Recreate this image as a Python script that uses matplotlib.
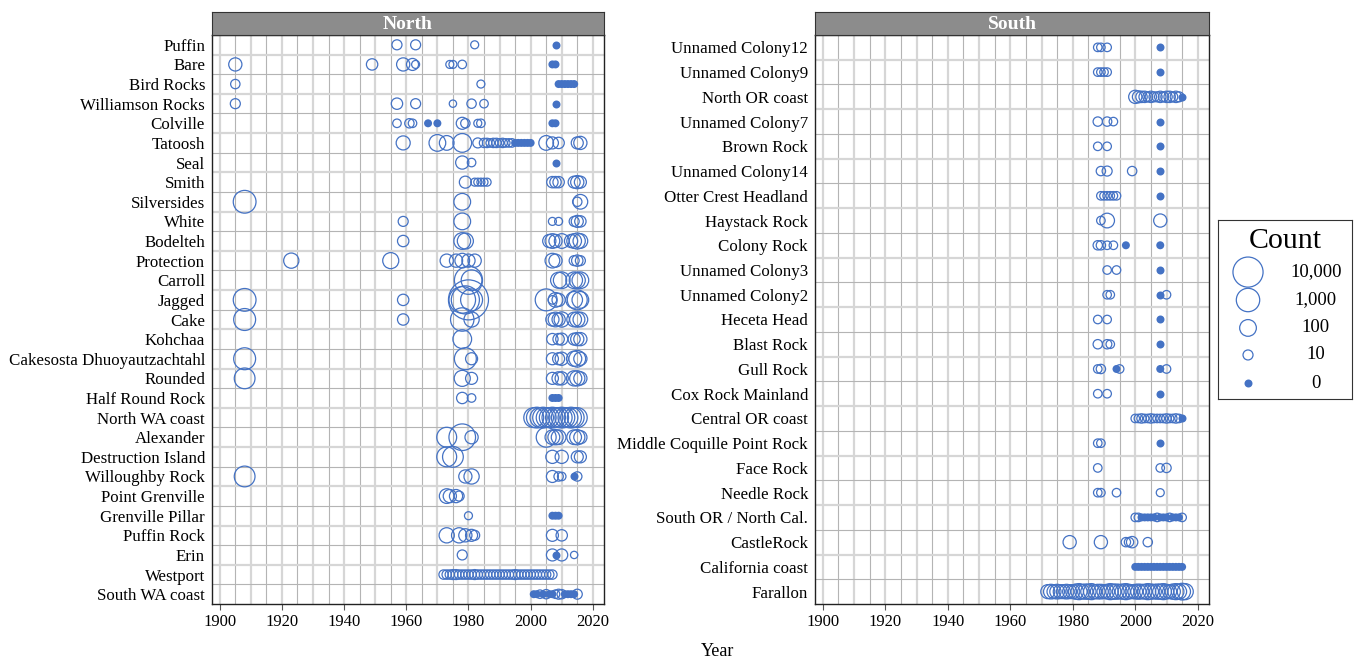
import numpy as np
import matplotlib.pyplot as plt

plt.rcParams['font.family'] = ['Liberation Serif', 'DejaVu Serif']

BLUE = '#4472c4'

# colony order, top to bottom
north_sites = ['Puffin', 'Bare', 'Bird Rocks', 'Williamson Rocks', 'Colville', 'Tatoosh',
               'Seal', 'Smith', 'Silversides', 'White', 'Bodelteh', 'Protection', 'Carroll',
               'Jagged', 'Cake', 'Kohchaa', 'Cakesosta Dhuoyautzachtahl', 'Rounded',
               'Half Round Rock', 'North WA coast', 'Alexander', 'Destruction Island',
               'Willoughby Rock', 'Point Grenville', 'Grenville Pillar', 'Puffin Rock', 'Erin',
               'Westport', 'South WA coast']

south_sites = ['Unnamed Colony12', 'Unnamed Colony9', 'North OR coast', 'Unnamed Colony7',
               'Brown Rock', 'Unnamed Colony14', 'Otter Crest Headland', 'Haystack Rock',
               'Colony Rock', 'Unnamed Colony3', 'Unnamed Colony2', 'Heceta Head', 'Blast Rock',
               'Gull Rock', 'Cox Rock Mainland', 'Central OR coast', 'Middle Coquille Point Rock',
               'Face Rock', 'Needle Rock', 'South OR / North Cal.', 'CastleRock',
               'California coast', 'Farallon']

# (year, count) per colony; count 0 = surveyed, none seen
north_counts = {
    'Puffin': [(1957, 10), (1963, 10), (1982, 5), (2008, 0)],
    'Bare': [(1905, 30), (1949, 16), (1959, 30), (1962, 20), (1963, 5), (1974, 5), (1975, 5),
             (1978, 6), (2007, 0), (2008, 0)],
    'Bird Rocks': [(1905, 8), (1984, 5), (2009, 0), (2010, 0), (2011, 0), (2012, 0), (2013, 0),
                   (2014, 0)],
    'Williamson Rocks': [(1905, 10), (1957, 16), (1963, 10), (1975, 4), (1981, 8), (1985, 6),
                         (2008, 0)],
    'Colville': [(1957, 6), (1961, 8), (1962, 6), (1967, 0), (1970, 0), (1978, 20), (1979, 8),
                 (1983, 5), (1984, 6), (2007, 0), (2008, 0)],
    'Tatoosh': [(1959, 40), (1970, 100), (1973, 50), (1978, 200), (1983, 10), (1985, 8),
                (1986, 8), (1987, 6), (1988, 8), (1989, 8), (1990, 6), (1991, 8), (1992, 6),
                (1993, 6), (1994, 6), (1995, 0), (1996, 0), (1997, 0), (1998, 0), (1999, 0),
                (2000, 0), (2005, 50), (2007, 20), (2009, 16), (2015, 20), (2016, 30)],
    'Seal': [(1978, 30), (1981, 6), (2008, 0)],
    'Smith': [(1979, 20), (1982, 5), (1983, 5), (1984, 5), (1985, 5), (1986, 5), (2007, 16),
              (2008, 16), (2009, 16), (2014, 20), (2015, 30), (2016, 20)],
    'Silversides': [(1908, 800), (1978, 100), (2015, 8), (2016, 50)],
    'White': [(1959, 10), (1978, 100), (2007, 5), (2009, 5), (2014, 10), (2015, 20), (2016, 16)],
    'Bodelteh': [(1959, 16), (1978, 100), (1979, 80), (2006, 30), (2007, 50), (2008, 30),
                 (2010, 50), (2013, 30), (2014, 50), (2015, 80), (2016, 50)],
    'Protection': [(1923, 60), (1955, 80), (1973, 30), (1976, 30), (1978, 50), (1980, 30),
                   (1982, 30), (2007, 50), (2008, 30), (2014, 10), (2015, 16), (2016, 10)],
    'Carroll': [(1980, 5000), (1981, 400), (2009, 80), (2010, 100), (2014, 100), (2015, 80),
                (2016, 100)],
    'Jagged': [(1908, 800), (1959, 16), (1978, 3000), (1979, 5000), (1980, 300000),
               (1981, 600), (2005, 600), (2007, 6), (2008, 50), (2009, 30), (2014, 100),
               (2015, 300), (2016, 100)],
    'Cake': [(1908, 600), (1959, 16), (1978, 1000), (1981, 60), (2007, 30), (2008, 50),
             (2009, 30), (2010, 60), (2014, 50), (2015, 60), (2016, 50)],
    'Kohchaa': [(1978, 200), (2007, 16), (2009, 16), (2010, 20), (2014, 20), (2015, 30),
                (2016, 30)],
    'Cakesosta Dhuoyautzachtahl': [(1908, 600), (1979, 600), (1981, 20), (2007, 20), (2009, 20),
                                   (2010, 30), (2014, 60), (2015, 100), (2016, 30)],
    'Rounded': [(1908, 400), (1978, 80), (1981, 20), (2007, 20), (2009, 30), (2010, 30),
                (2014, 60), (2015, 60), (2016, 30)],
    'Half Round Rock': [(1978, 16), (1981, 6), (2007, 0), (2008, 0), (2009, 0)],
    'North WA coast': [(2001, 300), (2002, 400), (2003, 300), (2004, 400), (2005, 300),
                       (2006, 300), (2007, 400), (2008, 300), (2009, 300), (2010, 400),
                       (2011, 300), (2012, 300), (2013, 400), (2014, 300), (2015, 300)],
    'Alexander': [(1973, 300), (1978, 3000), (1981, 30), (2005, 300), (2007, 50), (2008, 60),
                  (2009, 50), (2014, 50), (2015, 60), (2016, 30)],
    'Destruction Island': [(1973, 300), (1975, 400), (2007, 30), (2010, 30), (2015, 20),
                           (2016, 20)],
    'Willoughby Rock': [(1908, 400), (1979, 30), (1981, 60), (2007, 20), (2009, 8), (2010, 6),
                        (2014, 0), (2015, 8)],
    'Point Grenville': [(1973, 50), (1974, 30), (1976, 30), (1977, 10)],
    'Grenville Pillar': [(1980, 5), (2007, 0), (2008, 0), (2009, 0)],
    'Puffin Rock': [(1973, 60), (1977, 60), (1979, 30), (1981, 20), (1982, 10), (2007, 20),
                    (2010, 16)],
    'Erin': [(1978, 10), (2007, 20), (2008, 0), (2010, 20), (2014, 4)],
    'Westport': [(1972, 8), (1973, 8), (1974, 8), (1975, 10), (1976, 10), (1977, 8), (1978, 8),
                 (1979, 8), (1980, 8), (1981, 8), (1982, 10), (1983, 8), (1984, 8), (1985, 8),
                 (1986, 8), (1987, 8), (1988, 8), (1989, 8), (1990, 8), (1991, 8), (1992, 8),
                 (1993, 8), (1994, 8), (1995, 10), (1996, 8), (1997, 8), (1998, 8), (1999, 8),
                 (2000, 8), (2001, 8), (2002, 8), (2003, 8), (2004, 8), (2005, 8), (2006, 8),
                 (2007, 8)],
    'South WA coast': [(2001, 0), (2002, 0), (2003, 6), (2004, 0), (2005, 8), (2006, 0),
                       (2007, 0), (2008, 6), (2009, 10), (2010, 8), (2011, 0), (2012, 0),
                       (2013, 0), (2014, 0), (2015, 10)],
}

south_counts = {
    'Unnamed Colony12': [(1988, 6), (1989, 6), (1991, 6), (2008, 0)],
    'Unnamed Colony9': [(1988, 6), (1989, 6), (1990, 6), (1991, 6), (2008, 0)],
    'North OR coast': [(2000, 30), (2001, 20), (2002, 16), (2003, 16), (2004, 10), (2005, 16),
                       (2006, 10), (2007, 10), (2008, 16), (2009, 10), (2010, 16), (2011, 16),
                       (2012, 10), (2013, 16), (2014, 10), (2015, 0)],
    'Unnamed Colony7': [(1988, 8), (1991, 8), (1993, 6), (2008, 0)],
    'Brown Rock': [(1988, 6), (1991, 6), (2008, 0)],
    'Unnamed Colony14': [(1989, 8), (1991, 10), (1999, 8), (2008, 0)],
    'Otter Crest Headland': [(1989, 6), (1990, 6), (1991, 6), (1992, 6), (1993, 6), (1994, 6),
                             (2008, 0)],
    'Haystack Rock': [(1989, 6), (1991, 50), (2008, 30)],
    'Colony Rock': [(1988, 8), (1989, 8), (1991, 6), (1993, 6), (1997, 0), (2008, 0)],
    'Unnamed Colony3': [(1991, 6), (1994, 6), (2008, 0)],
    'Unnamed Colony2': [(1991, 6), (1992, 6), (2008, 0), (2010, 6)],
    'Heceta Head': [(1988, 6), (1991, 6), (2008, 0)],
    'Blast Rock': [(1988, 8), (1991, 8), (1992, 6), (2008, 0)],
    'Gull Rock': [(1988, 6), (1989, 8), (1995, 6), (1994, 0), (2010, 6), (2008, 0)],
    'Cox Rock Mainland': [(1988, 6), (1991, 6), (2008, 0)],
    'Central OR coast': [(2000, 6), (2001, 6), (2002, 8), (2003, 6), (2004, 6), (2005, 8),
                         (2006, 6), (2007, 6), (2008, 6), (2009, 6), (2010, 8), (2011, 6),
                         (2012, 6), (2013, 8), (2014, 6), (2015, 0)],
    'Middle Coquille Point Rock': [(1988, 6), (1989, 6), (2008, 0)],
    'Face Rock': [(1988, 6), (2008, 6), (2010, 8)],
    'Needle Rock': [(1988, 6), (1989, 6), (1994, 6), (2008, 5)],
    'South OR / North Cal.': [(2000, 6), (2001, 6), (2002, 0), (2003, 0), (2004, 0), (2005, 0),
                              (2006, 0), (2008, 0), (2009, 0), (2010, 0), (2012, 0), (2013, 0),
                              (2014, 0), (2007, 6), (2011, 6), (2015, 6)],
    'CastleRock': [(1979, 30), (1989, 30), (1997, 8), (1998, 8), (1999, 16), (2004, 8)],
    'California coast': [(2000, 0), (2001, 0), (2002, 0), (2003, 0), (2004, 0), (2005, 0),
                         (2006, 0), (2007, 0), (2008, 0), (2009, 0), (2010, 0), (2011, 0),
                         (2012, 0), (2013, 0), (2014, 0), (2015, 0)],
    'Farallon': [(1972, 40), (1973, 50), (1974, 40), (1975, 50), (1976, 40), (1977, 40),
                 (1978, 50), (1979, 40), (1980, 40), (1981, 60), (1982, 80), (1983, 50),
                 (1984, 60), (1985, 60), (1986, 80), (1987, 40), (1988, 50), (1989, 50),
                 (1990, 40), (1991, 50), (1992, 80), (1993, 60), (1994, 60), (1995, 50),
                 (1996, 60), (1997, 80), (1998, 50), (1999, 40), (2000, 50), (2001, 60),
                 (2002, 50), (2003, 50), (2004, 80), (2005, 60), (2006, 50), (2007, 60),
                 (2008, 60), (2009, 80), (2010, 50), (2011, 40), (2012, 60), (2013, 80),
                 (2014, 60), (2015, 100), (2016, 80)],
}

legend_counts = [10000, 1000, 100, 10, 0]
legend_labels = ['10,000', '1,000', '100', '10', '0']

DPI = 100


def marker_area(count):
    # circle diameter grows with log10(count); zero counts get a fixed dot
    count = np.asarray(count, dtype=float)
    diam_px = np.where(count > 0, 3.3 + 6.7 * np.log10(np.maximum(count, 1)), 8.0)
    return (diam_px * 72.0 / DPI) ** 2


def draw_panel(ax, sites, counts, title):
    for i, site in enumerate(sites):
        years = np.array([p[0] for p in counts[site]])
        vals = np.array([p[1] for p in counts[site]])
        zero = vals == 0
        ypos = np.full(len(years), i)
        ax.scatter(years[~zero], ypos[~zero], s=marker_area(vals[~zero]),
                   facecolors='none', edgecolors=BLUE, linewidths=0.9, zorder=3)
        ax.scatter(years[zero], ypos[zero], s=marker_area(vals[zero]),
                   color=BLUE, linewidths=0, zorder=3)

    ax.set_xlim(1897.5, 2023.6)
    ax.set_ylim(len(sites) - 0.5, -0.5)
    ax.set_yticks(range(len(sites)))
    ax.set_yticklabels(sites, fontsize=12.2)
    ax.set_xticks(range(1900, 2021, 20))
    ax.tick_params(axis='x', labelsize=12, length=4, color='#555555', pad=3)
    ax.tick_params(axis='y', length=0, pad=5)

    # grid: every 5 years and between rows
    for yr in range(1900, 2021, 5):
        if yr % 10 == 0:
            ax.axvline(yr, color='#d6d6d6', lw=1.6, zorder=1)
        else:
            ax.axvline(yr, color='#b4b4b4', lw=0.8, zorder=1)
    for k in range(len(sites) - 1):
        if k % 2 == 0:
            ax.axhline(k + 0.5, color='#d6d6d6', lw=1.6, zorder=1)
        else:
            ax.axhline(k + 0.5, color='#b4b4b4', lw=0.8, zorder=1)

    for sp in ax.spines.values():
        sp.set_color('#222222')
        sp.set_linewidth(1.0)

    # facet strip above the panel
    pos = ax.get_position()
    strip = ax.figure.add_axes([pos.x0, pos.y1, pos.width, 23 / 659])
    strip.set_facecolor('#8c8c8c')
    strip.set_xticks([])
    strip.set_yticks([])
    for sp in strip.spines.values():
        sp.set_color('#333333')
    strip.text(0.5, 0.45, title, ha='center', va='center', color='white',
               fontsize=14, fontweight='bold', transform=strip.transAxes)


fig = plt.figure(figsize=(13.58, 6.59), dpi=DPI)

ax_n = fig.add_axes([212 / 1358, 1 - 604 / 659, 392 / 1358, 569 / 659])
ax_s = fig.add_axes([815 / 1358, 1 - 604 / 659, 394 / 1358, 569 / 659])
draw_panel(ax_n, north_sites, north_counts, 'North')
draw_panel(ax_s, south_sites, south_counts, 'South')

fig.text(718 / 1358, 1 - 651 / 659, 'Year', ha='center', va='center', fontsize=13)

# size legend
leg = fig.add_axes([1218 / 1358, 1 - 399 / 659, 134 / 1358, 179 / 659])
leg.set_xlim(0, 1)
leg.set_ylim(0, 1)
leg.set_xticks([])
leg.set_yticks([])
for sp in leg.spines.values():
    sp.set_color('#333333')
leg.text(0.5, 0.885, 'Count', ha='center', va='center', fontsize=21.5)
leg_y = [0.709, 0.553, 0.397, 0.246, 0.089]
for c, lab, yy in zip(legend_counts, legend_labels, leg_y):
    if c > 0:
        leg.scatter([0.224], [yy], s=marker_area([c]), facecolors='none',
                    edgecolors=BLUE, linewidths=0.9)
    else:
        leg.scatter([0.224], [yy], s=marker_area([c]), color=BLUE, linewidths=0)
    leg.text(0.731, yy, lab, ha='center', va='center', fontsize=13.5)

fig.savefig('out.png', dpi=DPI)
